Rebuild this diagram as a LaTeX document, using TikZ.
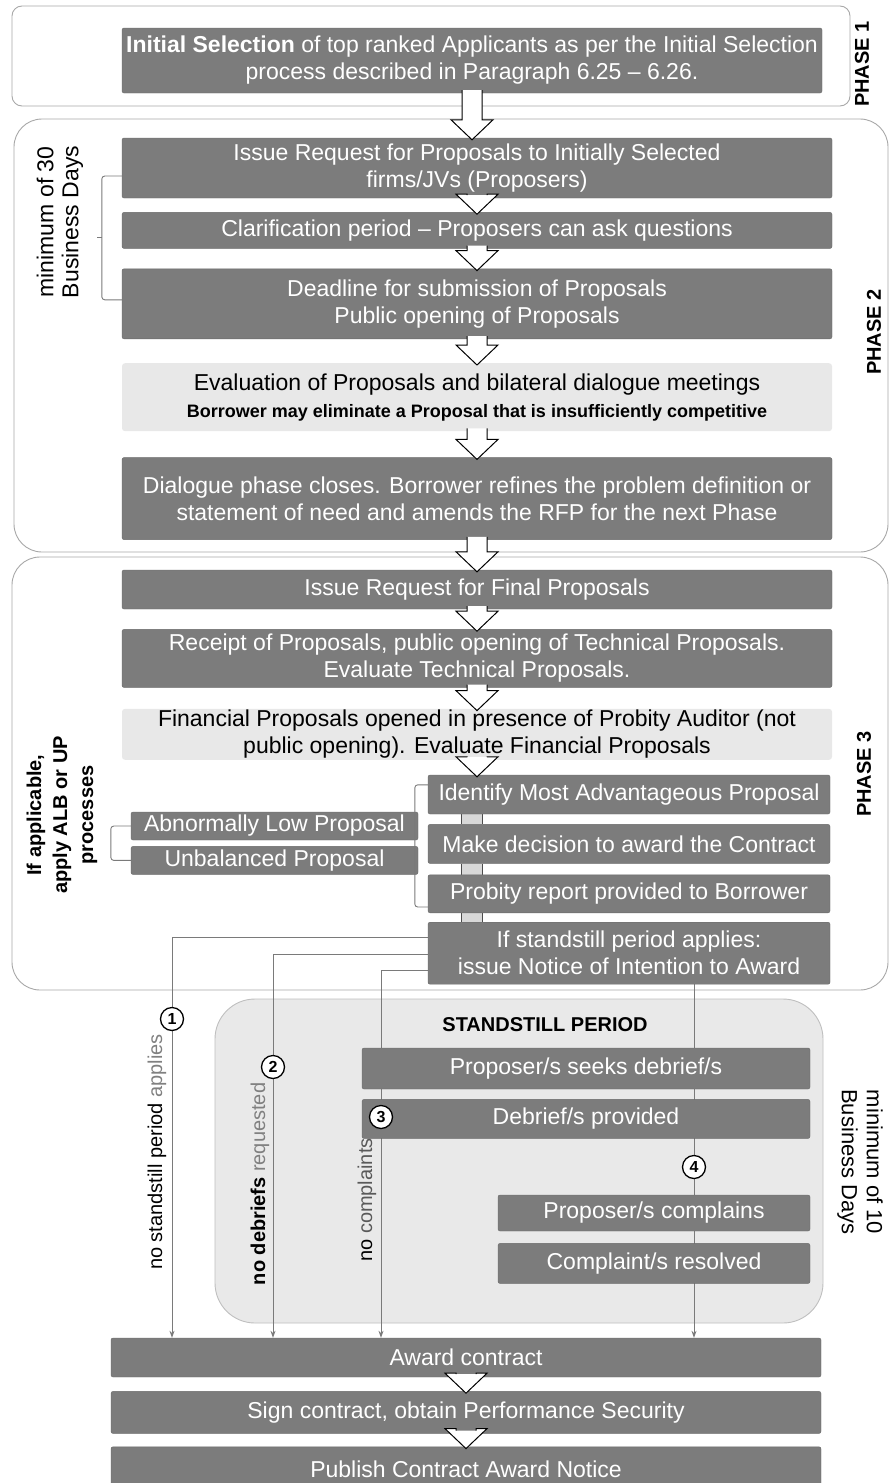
\documentclass[tikz,border=0pt]{standalone}
\usepackage{fontspec}
\setmainfont{Liberation Sans}
\usetikzlibrary{arrows.meta,positioning,calc,backgrounds}

\definecolor{darkfill}{HTML}{7C7C7C}
\definecolor{darkedge}{HTML}{6A6A6A}
\definecolor{lightfill}{HTML}{E8E8E8}
\definecolor{framegray}{HTML}{A8A8A8}
\definecolor{standfill}{HTML}{E9E9E9}
\definecolor{linkgray}{HTML}{7A7A7A}
\definecolor{pipefill}{HTML}{D8D8D8}

% hollow down arrow from one box to the next
\newcommand{\flowarrow}[2]{%
  \path[hollow] let \p1=(#1.south), \p2=(#1.south |- #2.north) in
    (\x1-10pt,\y1+3pt) -- (\x1-10pt,\y2+18pt) -- (\x1-21pt,\y2+18pt) -- (\x1,\y2-2pt)
    -- (\x1+21pt,\y2+18pt) -- (\x1+10pt,\y2+18pt) -- (\x1+10pt,\y1+3pt);}

\begin{document}
\begin{tikzpicture}[x=1pt, y=-1pt, >=Stealth,
  font=\fontsize{23pt}{27pt}\selectfont,
  dbox/.style={fill=darkfill, draw=darkedge, rounded corners=2pt, text=white, align=center, inner sep=1pt, minimum width=710pt},
  lbox/.style={fill=lightfill, rounded corners=3pt, text=black, align=center, inner sep=1pt, minimum width=710pt},
  frame/.style={draw=framegray, line width=0.9pt, fill=white},
  hollow/.style={draw=black, fill=white, line width=1pt, line join=miter},
  link/.style={draw=linkgray, line width=0.9pt, -{Stealth[length=7pt,width=5pt]}},
  bracket/.style={draw=linkgray, line width=0.9pt, rounded corners=3pt},
  pipe/.style={draw=black!70, line width=1.2pt},
  numc/.style={circle, draw, line width=1.3pt, fill=white, minimum size=23pt, inner sep=0pt, font=\bfseries\fontsize{16pt}{16pt}\selectfont},
  sidelabel/.style={align=center, font=\fontsize{23pt}{25pt}\selectfont},
  phaselabel/.style={rotate=90, font=\bfseries\fontsize{20pt}{20pt}\selectfont},
  linelabel/.style={rotate=90, font=\fontsize{20pt}{20pt}\selectfont}]

\useasboundingbox (0,0) rectangle (893,1483);

% phase 1
\node[dbox, minimum width=700pt, minimum height=65pt] (init) at (472,60.5) {\textbf{Initial Selection} of top ranked Applicants as per the Initial Selection\\process described in Paragraph 6.25 -- 6.26.};

% phase 2
\node[dbox, minimum height=60pt] (rfp) at (477,168) {Issue Request for Proposals to Initially Selected\\firms/JVs (Proposers)};
\node[dbox, minimum height=36pt, below=14pt of rfp] (clar) {Clarification period -- Proposers can ask questions};
\node[dbox, minimum height=70pt, below=20pt of clar] (dead) {Deadline for submission of Proposals\\Public opening of Proposals};
\node[lbox, minimum height=68pt, below=24pt of dead] (eval) {Evaluation of Proposals and bilateral dialogue meetings\\{\bfseries\fontsize{18pt}{22pt}\selectfont Borrower may eliminate a Proposal that is insufficiently competitive}};
\node[dbox, minimum height=82pt, below=26pt of eval] (dial) {Dialogue phase closes. Borrower refines the problem definition or\\statement of need and amends the RFP for the next Phase};

% phase 3
\node[dbox, minimum height=39pt, below=30pt of dial] (final) {Issue Request for Final Proposals};
\node[dbox, minimum height=58pt, below=20pt of final] (rec) {Receipt of Proposals, public opening of Technical Proposals.\\Evaluate Technical Proposals.};
\node[lbox, minimum height=51pt, below=21pt of rec] (fin) {Financial Proposals opened in presence of Probity Auditor (not\\public opening). Evaluate Financial Proposals};
\node[dbox, minimum width=402pt, minimum height=39pt] (ident) at (629,794.5) {Identify Most Advantageous Proposal};
\node[dbox, minimum width=402pt, minimum height=39pt, below=10pt of ident] (decide) {Make decision to award the Contract};
\node[dbox, minimum width=402pt, minimum height=38pt, below=11pt of decide] (prob) {Probity report provided to Borrower};
\node[dbox, minimum width=402pt, minimum height=62pt, below=9pt of prob] (notice) {If standstill period applies:\\issue Notice of Intention to Award};
\node[dbox, minimum width=287pt, minimum height=28pt] (abn) at (274.5,826) {Abnormally Low Proposal};
\node[dbox, minimum width=287pt, minimum height=28pt, below=6pt of abn] (unb) {Unbalanced Proposal};

% standstill period
\node[font=\bfseries\fontsize{20pt}{20pt}\selectfont] (sstitle) at (545,1025) {STANDSTILL PERIOD};
\node[dbox, minimum width=448pt, minimum height=41pt] (seeks) at (586,1068.5) {Proposer/s seeks debrief/s};
\node[dbox, minimum width=448pt, minimum height=39pt, below=10pt of seeks] (debr) {Debrief/s provided};
\node[dbox, minimum width=312pt, minimum height=36pt] (compl) at (654,1213) {Proposer/s complains};
\node[dbox, minimum width=312pt, minimum height=40pt, below=12pt of compl] (resol) {Complaint/s resolved};

% award
\node[dbox, minimum height=39pt] (award) at (466,1357.5) {Award contract};
\node[dbox, minimum height=42pt, below=14pt of award] (sign) {Sign contract, obtain Performance Security};
\node[dbox, minimum height=44pt, below=13pt of sign] (publ) {Publish Contract Award Notice};

% numbered routes
\node[numc] (c1) at (172,1019) {1};
\node[numc] (c2) at (273,1067) {2};
\node[numc] (c3) at (381,1117) {3};
\node[numc] (c4) at (694,1167) {4};

\begin{scope}[on background layer]
\draw[frame, rounded corners=10pt] (12,6) rectangle (850,106);
\draw[frame, rounded corners=28pt] (14,119) rectangle (888,552);
\draw[frame, rounded corners=28pt] (12,557) rectangle (888,990);
\draw[draw=black!25, line width=0.9pt, fill=standfill, rounded corners=40pt] (215,999) rectangle (823,1323);
\draw[link] ([yshift=16pt]notice.west) -| (award.north -| c1);
\draw[link] ([yshift=-1pt]notice.west) -| (award.north -| c2);
\draw[link] ([yshift=-17pt]notice.west) -| (award.north -| c3);
\draw[link] (notice.south -| c4) -- (award.north -| c4);
% small pipes between the decision steps
\foreach \s/\t in {ident/decide, decide/prob, prob/notice} {
  \fill[pipefill] ([xshift=34pt]\s.south west) rectangle ([xshift=55pt]\t.north west);
  \draw[pipe] ([xshift=34pt]\s.south west) -- ([xshift=34pt]\t.north west)
              ([xshift=55pt]\s.south west) -- ([xshift=55pt]\t.north west);
}
\end{scope}

% brackets
\draw[bracket] ([yshift=-8pt]rfp.west) -- ++(-20pt,0) coordinate (b30t) |- ([yshift=4pt]dead.west) coordinate (b30b);
\draw[bracket] ($(b30t)!0.5!(b30t |- b30b)$) -- ++(-5pt,0);
\draw[bracket] ([yshift=-10pt]ident.north west) -- ++(-13pt,0) |- ([yshift=6pt]prob.south west);
\draw[bracket] (abn.west) -- ++(-20pt,0) |- (unb.west);

% flow arrows
\flowarrow{init}{rfp}
\flowarrow{rfp}{clar}
\flowarrow{clar}{dead}
\flowarrow{dead}{eval}
\flowarrow{eval}{dial}
\flowarrow{dial}{final}
\flowarrow{final}{rec}
\flowarrow{rec}{fin}
\flowarrow{fin}{ident}
\flowarrow{award}{sign}
\flowarrow{sign}{publ}

% labels
\node[phaselabel] (ph1) at (862,64) {PHASE 1};
\node[phaselabel] (ph2) at (874,332) {PHASE 2};
\node[phaselabel] (ph3) at (864,774) {PHASE 3};
\node[sidelabel, rotate=90] (days30) at (60,222) {minimum of 30\\Business Days};
\node[sidelabel, rotate=-90, font=\fontsize{22pt}{25pt}\selectfont] (days10) at (860,1162) {minimum of 10\\Business Days};
\node[sidelabel, rotate=90, font=\bfseries\fontsize{20pt}{26pt}\selectfont] (albup) at (62,815) {If applicable,\\apply ALB or UP\\processes};
\node[linelabel] (l1) at (157,1152) {no standstill period \textcolor{black!50}{applies}};
\node[linelabel] (l2) at (260,1184) {\textbf{no debriefs} \textcolor{black!50}{requested}};
\node[linelabel] (l3) at (367,1200) {no \textcolor{black!65}{complaints}};
\end{tikzpicture}
\end{document}
